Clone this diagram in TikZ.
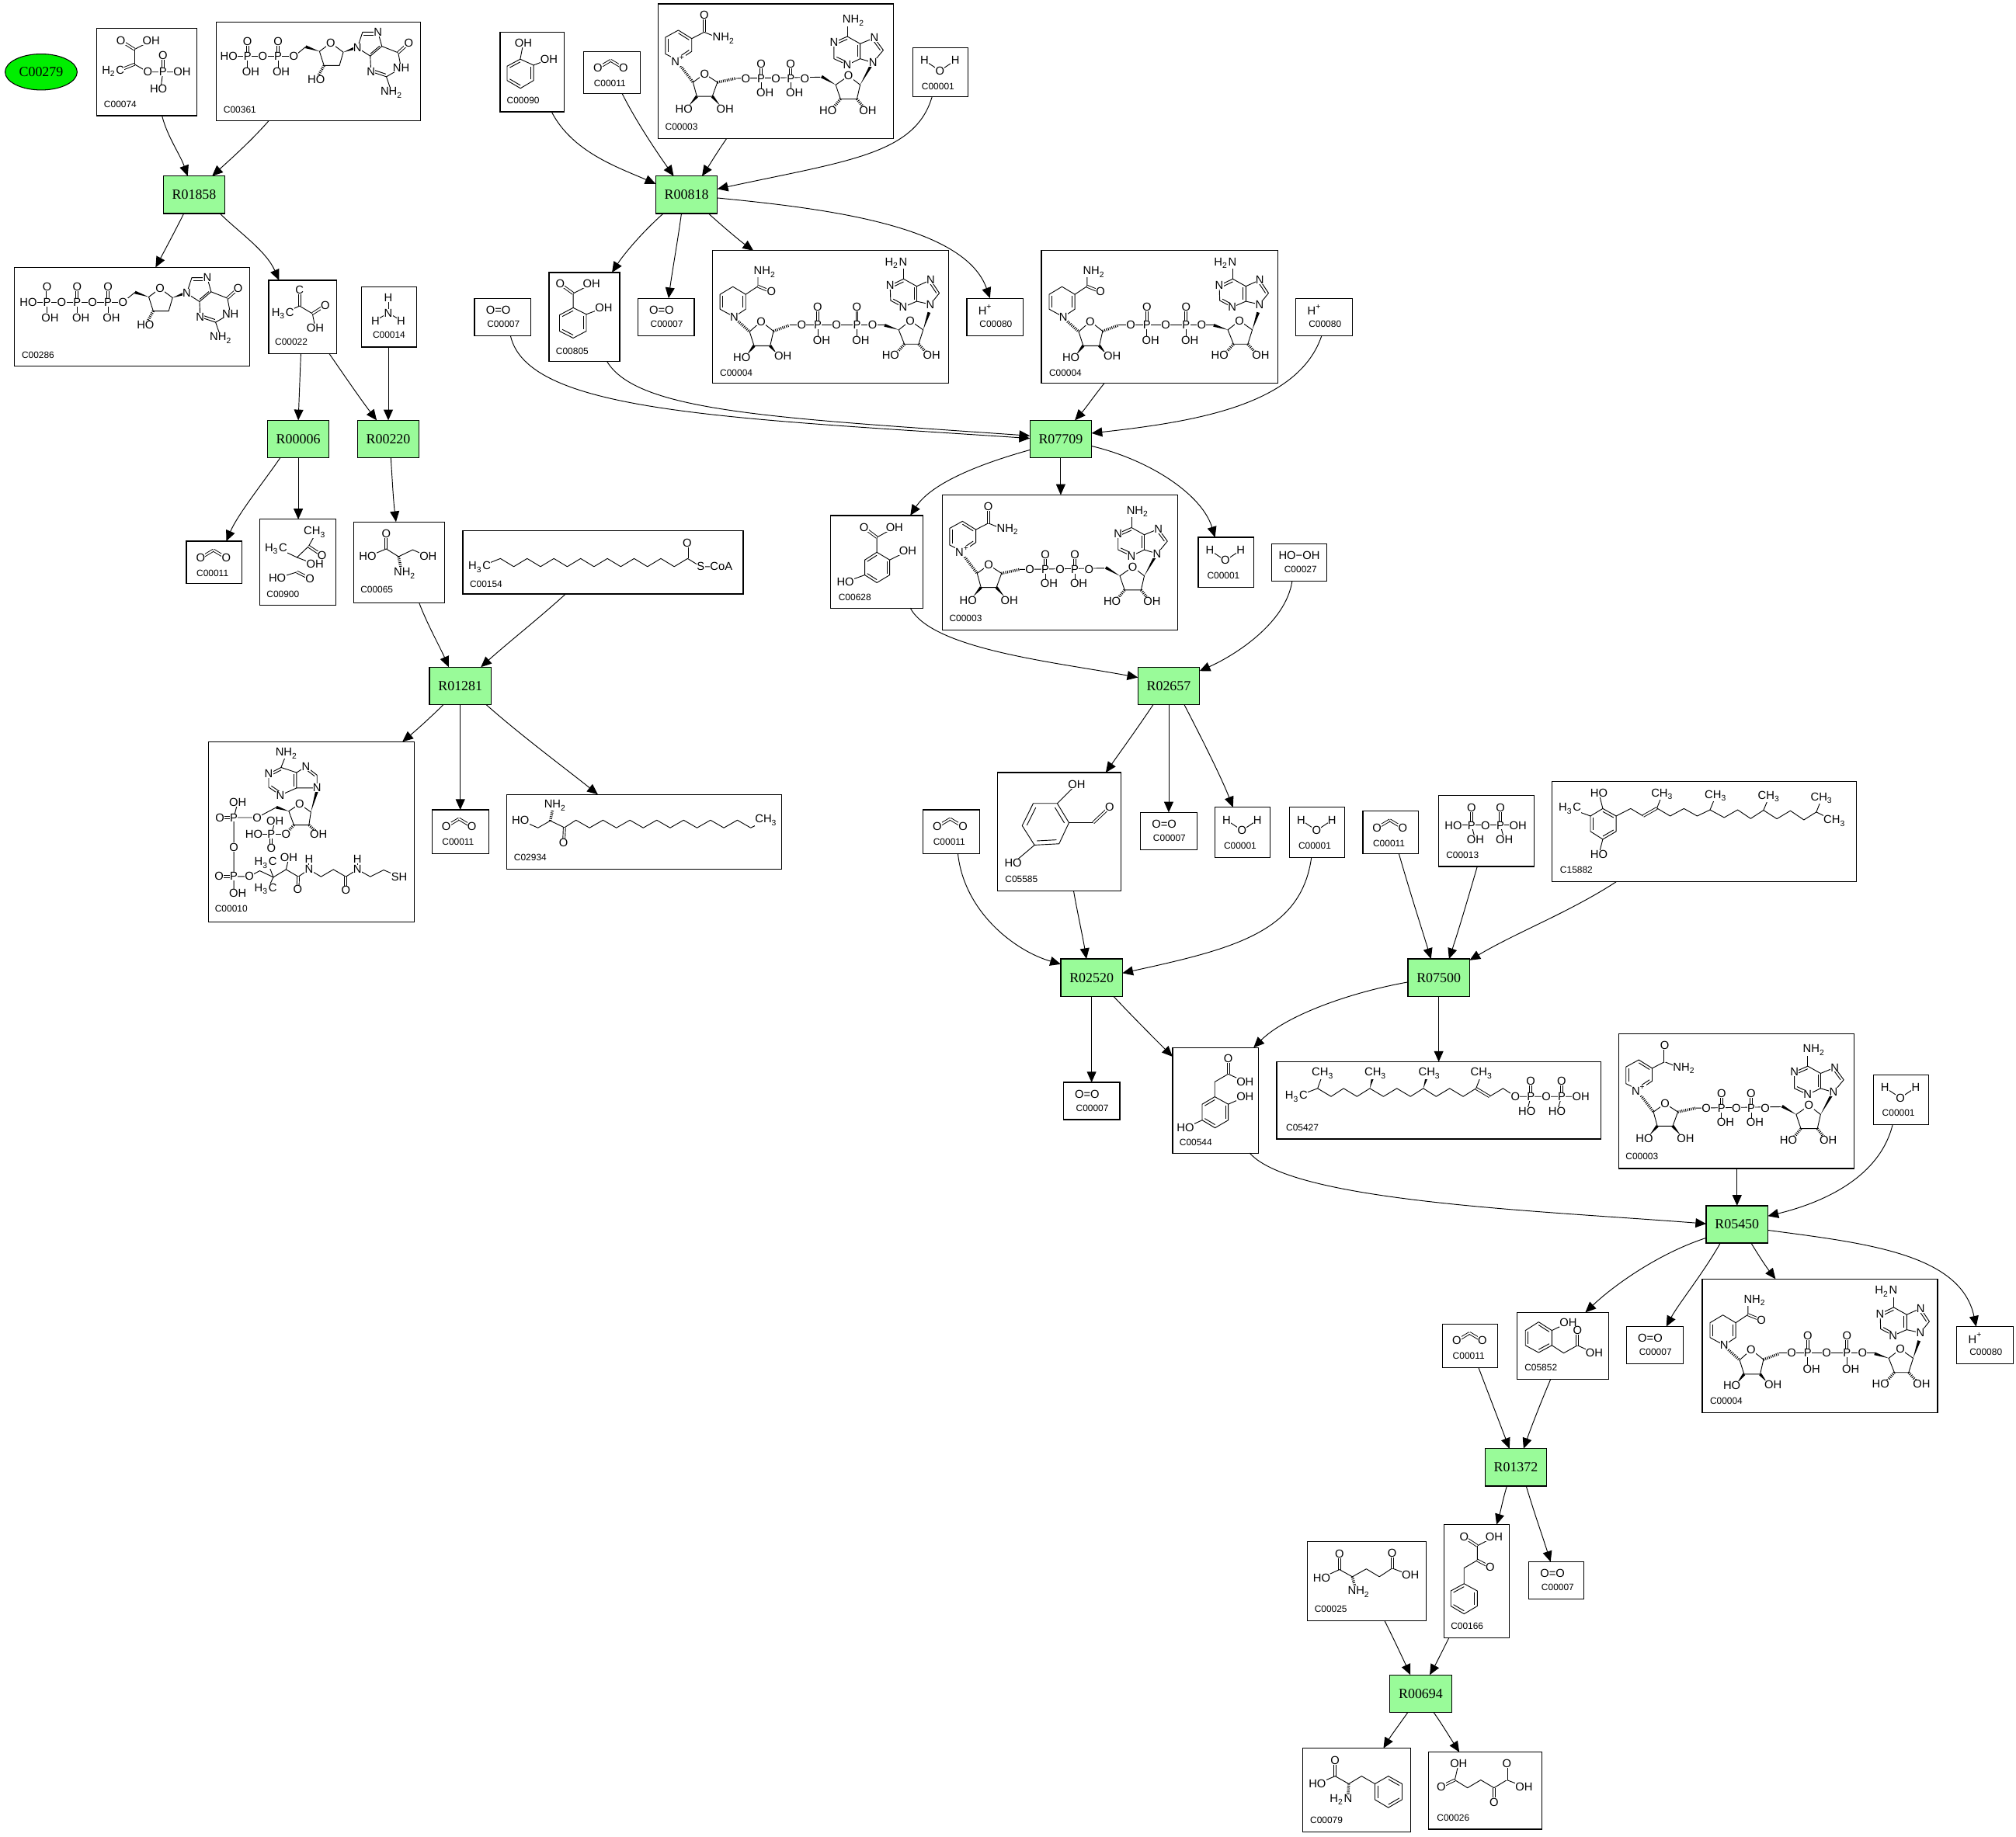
\documentclass[tikz,border=0pt]{standalone}
\usepackage{fontspec}
\setmainfont{Liberation Sans}
\newfontfamily\rxfont{Liberation Serif}
\usetikzlibrary{arrows.meta,calc,shapes.geometric}
\newcount\atomno
\newcommand\atmsize{\fontsize{4.2}{4.6}\selectfont}
\newcommand\lblsize{\fontsize{3.4}{3.8}\selectfont}
\tikzset{
 cbox/.style={draw=black,line width=0.34pt,rectangle,inner sep=0pt,outer sep=0pt,fill=white},
 rxn/.style={draw=black,line width=0.34pt,rectangle,fill=rxgreen,inner sep=0pt,outer sep=0pt,minimum width=22.6pt,minimum height=13.7pt,font=\rxfont\fontsize{5.1}{6}\selectfont},
 edge/.style={line width=0.27pt,draw=black,-{Triangle[length=3.9pt,width=3.4pt]}},
 bond/.style={line width=0.26pt,line join=round},
 dbond/.style={bond,double,double distance=0.55pt},
 atom/.style={inner sep=0.1pt,fill=white,font=\atmsize},
 idlabel/.style={inner sep=0pt,anchor=west,font=\lblsize},
}
\definecolor{rxgreen}{HTML}{99FB99}
\definecolor{startgreen}{HTML}{00EE00}
\newcommand\atm[3]{\global\advance\atomno by 1 \node[atom] (atm\the\atomno) at (#1,#2) {#3};}
\newcommand\lbl[3]{\global\advance\atomno by 1 \node[idlabel] (atm\the\atomno) at (#1,#2) {#3};}
\newcommand\bd[1]{\draw[bond] #1;}
\newcommand\dbd[1]{\draw[dbond] #1;}
\newcommand\wdg[2]{\fill (#1) -- ($(#2)!0.55pt!90:(#1)$) -- ($(#2)!0.55pt!-90:(#1)$) -- cycle;}
\newcommand\hsh[2]{\draw[line width=1pt,dash pattern=on 0.28pt off 0.42pt] (#1) -- (#2);}
\newcommand\inr[3]{\draw[bond] ($(#1)!0.2!(#3)$) -- ($(#2)!0.2!(#3)$);}
\newcommand\place[2]{\begin{scope}[shift={(#1.north west)}]#2\end{scope}}
\newcommand\cpd[5]{\pgfmathsetmacro\cw{(#4-#2)*0.47107}\pgfmathsetmacro\ch{(#5-#3)*0.47107}\node[cbox,minimum width=\cw pt,minimum height=\ch pt] (#1) at ({(#2+#4)/2},{(#3+#5)/2}) {};}
\newcommand\rx[4]{\node[rxn] (#1) at ({#2+24},{#3+14.5}) {#4};}
\newcommand\E[4]{\draw[edge] (#1) .. controls (#2) and (#3) .. (#4);}
\newcommand\Ln[2]{\draw[edge] (#1) -- (#2);}
\newcommand\nh{NH\textsubscript{2}}
\newcommand\hn{H\textsubscript{2}N}
\newcommand\mc{H\textsubscript{3}C}
\newcommand\cm{CH\textsubscript{3}}
% --- molecules
\newcommand\mCOO{\dbd{(11,13)--(21,7)}\dbd{(21,7)--(31,13)}\atm{11}{13}{O}\atm{31}{13}{O}\lbl{7.5}{25}{C00011}}
\newcommand\mHHO{\bd{(9,10)--(21,18)--(33,10)}\atm{9}{10}{H}\atm{21}{18}{O}\atm{33}{10}{H}\lbl{6.5}{30}{C00001}}
\newcommand\mOO{\atm{18.5}{9}{O=O}\lbl{9.5}{20}{C00007}}
\newcommand\mHp{\atm{14.5}{9}{H\textsuperscript{+}}\lbl{9.5}{20}{C00080}}
\newcommand\mHOOH{\atm{21.5}{9}{HO−OH}\lbl{9.5}{20}{C00027}}
\newcommand\mNAD{%
 \bd{(15.6,20.5)--(26,27)--(26,37)--(15.6,44)--(5.6,39)--(5.6,26)--cycle}
 \inr{15.6,20.5}{26,27}{15.7,32}\inr{26,37}{15.6,44}{15.7,32}\inr{5.6,39}{5.6,26}{15.7,32}
 \bd{(26,27)--(35.7,22)--(48,27)}\dbd{(35.7,22)--(35.7,9)}
 \hsh{15.6,46}{27,61}
 \bd{(27,61)--(36,54.5)--(46,61)--(42,72)--(30,72)--cycle}
 \wdg{24,79}{30,72}\wdg{48,79}{42,72}
 \hsh{46,61}{60,58}
 \bd{(60,58)--(126,57)}
 \dbd{(80,58)--(80,47)}\bd{(80,58)--(80,69)}\dbd{(103,58)--(103,47)}\bd{(103,58)--(103,69)}
 \wdg{138,63}{127,56.5}
 \bd{(138,63)--(148,56)--(157,63)--(154.5,74)--(141.7,74)--cycle}
 \hsh{141.7,74}{136,81}\hsh{154.5,74}{160,81}
 \wdg{157,63}{166,47}
 \bd{(147,25.4)--(157,31)--(157,42.7)--(147,47.5)--(136.6,42.7)--(136.6,30)--cycle}
 \bd{(157,31)--(168,26.5)--(175,36)--(167,45.7)--(157,42.7)}
 \inr{147,25.4}{136.6,30}{147,36}\inr{157,31}{157,42.7}{147,36}\inr{147,47.5}{136.6,42.7}{147,36}
 \inr{168,26.5}{175,36}{163,36}
 \bd{(147,25.4)--(147,14)}
 \atm{35.7}{9}{O}\atm{51}{27}{\nh}\atm{15.6}{44}{N\textsuperscript{+}}\atm{36}{54.5}{O}
 \atm{20}{82}{HO}\atm{52}{82}{OH}\atm{68}{58}{O}\atm{80}{58}{P}\atm{80}{46.5}{O}\atm{83}{69}{OH}
 \atm{91.5}{58}{O}\atm{103}{58}{P}\atm{103}{46.5}{O}\atm{106}{69}{OH}\atm{114}{58}{O}\atm{148}{56}{O}
 \atm{132}{83}{HO}\atm{163}{83}{OH}\atm{167}{45.7}{N}\atm{168}{26.5}{N}\atm{147}{47.5}{N}\atm{136.6}{30}{N}\atm{152}{13}{\nh}
 \lbl{5}{95.8}{C00003}}
\newcommand\mNADH{%
 \bd{(16,28)--(26,34)--(26,45.5)--(17,51.5)--(6,45.5)--(6,34)--cycle}
 \inr{26,34}{26,45.5}{16,40}\inr{6,34}{6,45.5}{16,40}
 \bd{(26,34)--(35.5,27.7)--(35.5,18)}\dbd{(35.5,27.7)--(46,32)}
 \hsh{18,53}{29,63}
 \bd{(29,63)--(38,55)--(47.6,62.6)--(45,74)--(32.5,74)--cycle}
 \wdg{27,81}{32.5,74}\wdg{50,80}{45,74}
 \hsh{47.6,62.6}{60,58}
 \bd{(60,57.6)--(134,57.6)}
 \dbd{(82,57.6)--(82,44)}\bd{(82,57.6)--(82,70)}\dbd{(112.5,57.6)--(112.5,44)}\bd{(112.5,57.6)--(112.5,70)}
 \wdg{145,61.6}{134,58}
 \bd{(145,61.6)--(154,54.5)--(164,61.6)--(160.5,72.7)--(149.4,72.7)--cycle}
 \hsh{149.4,72.7}{143,80}\hsh{160.5,72.7}{167,80}
 \wdg{164,61.6}{168.6,48}
 \bd{(148.8,22)--(159,27.7)--(159,39.4)--(148.4,44)--(138.7,38.8)--(138.3,27)--cycle}
 \bd{(159,27.7)--(169.8,22.8)--(176.6,33)--(169.6,41.8)--(159,39.4)}
 \inr{148.8,22}{138.3,27}{148.8,33}\inr{159,27.7}{159,39.4}{148.8,33}\inr{148.4,44}{138.7,38.8}{148.8,33}
 \inr{169.8,22.8}{176.6,33}{165,33}
 \bd{(148.8,22)--(148.8,11)}
 \atm{41}{16.5}{\nh}\atm{46}{32}{O}\atm{17}{51.5}{N}\atm{38}{55}{O}\atm{23}{83}{HO}\atm{55}{82}{OH}
 \atm{69.5}{57.6}{O}\atm{82}{57.6}{P}\atm{82}{44}{O}\atm{85}{70}{OH}\atm{96.6}{57.6}{O}
 \atm{112.5}{57.6}{P}\atm{112.5}{44}{O}\atm{115.5}{70}{OH}\atm{124.6}{57.6}{O}\atm{154}{54.5}{O}
 \atm{138.7}{81.4}{HO}\atm{170.6}{81.4}{OH}\atm{143}{9.7}{\hn}\atm{138.3}{27}{N}\atm{148.4}{44}{N}\atm{169.8}{22.8}{N}\atm{169.6}{41.8}{N}
 \lbl{5.6}{95}{C00004}}
% deoxyguanosine part; origin so that the 5' O sits at local (0,0)
\newcommand\mDG{%
 \bd{(0,0)--(9.3,-7.6)}\wdg{20,-4}{9.3,-7.6}
 \bd{(20,-4)--(28.8,-10.6)--(38.5,-3.4)--(35.5,7)--(23.5,7)--cycle}
 \hsh{23.5,7}{19,15}\wdg{38.5,-3.4}{48,-6.8}
 \bd{(49.5,-6.8)--(53.5,-19)--(65.5,-19)--(68.5,-8)--(59.5,-0.4)--(49.5,-6.8)}
 \bd{(68.5,-8)--(81.2,-3)--(83.5,9)--(72,15.7)--(60,11.7)--(59.5,-0.4)}
 \bd{(53.5,-19)--(65.5,-19)}\inr{53.5,-19}{65.5,-19}{58,-8}\inr{68.5,-8}{59.5,-0.4}{60,-9}\inr{60,11.7}{72,15.7}{70,5}
 \dbd{(81.2,-3)--(89.5,-10.6)}\bd{(72,15.7)--(76.2,28)}
 \atm{28.8}{-10.6}{O}\atm{17.5}{18}{HO}\atm{49.5}{-6.8}{N}\atm{65.5}{-19}{N}\atm{89.5}{-10.6}{O}\atm{83.5}{9}{NH}\atm{60}{11.7}{N}\atm{76.2}{28}{\nh}}
\newcommand\mPP[2]{% phosphate at local x: P at #1
 \dbd{(#1,27)--(#1,15)}\bd{(#1,27)--(#1,39)}\atm{#1}{27}{P}\atm{#1}{15}{O}\atm{#2}{39}{OH}}
\newcommand\mDGDP{%
 \bd{(10,27)--(60.5,27)}
 \mPP{24.5}{27}\mPP{48.3}{50.7}\atm{10}{27}{HO}\atm{36.4}{27}{O}
 \begin{scope}[shift={(60.5,27)}]\mDG\end{scope}\atm{60.5}{27}{O}
 \lbl{5.5}{68.5}{C00361}}
\newcommand\mDGTP{%
 \bd{(11,27)--(84.7,27)}
 \mPP{25.6}{28}\mPP{49}{51.9}\mPP{73}{75.7}\atm{11}{27}{HO}\atm{37}{27}{O}\atm{61}{27}{O}
 \begin{scope}[shift={(84.7,27)}]\mDG\end{scope}\atm{84.7}{27}{O}
 \lbl{5.5}{68.5}{C00286}}
\newcommand\mPEP{%
 \bd{(29.6,16.4)--(42.6,9.7)}\dbd{(29.6,16.4)--(19,9.7)}\bd{(29.6,16.4)--(29.6,28)}
 \dbd{(29.6,28)--(17,33)}\bd{(29.6,28)--(40,34)--(66.6,34)}\dbd{(51.7,34)--(51.7,21)}\bd{(51.7,34)--(50,47)}
 \atm{19}{9.7}{O}\atm{42.6}{9.7}{OH}\atm{13}{33.6}{H\textsubscript{2}C}\atm{40}{34}{O}\atm{51.7}{34}{P}\atm{51.7}{21}{O}\atm{66.6}{34}{OH}\atm{48.3}{47}{HO}
 \lbl{5.5}{59.3}{C00074}}
\newcommand\mPYR{%
 \dbd{(24,7.7)--(24,20)}\bd{(11,26)--(24,20)--(34,26)--(36.2,37)}\dbd{(34,26)--(44,19.5)}
 \atm{24}{7.7}{C}\atm{11}{26}{\mc}\atm{44}{19.5}{O}\atm{36.2}{37}{OH}\lbl{4.5}{47.7}{C00022}}
\newcommand\mNHHH{\bd{(21,8.8)--(21,20.4)}\bd{(11,26.4)--(21,20.4)--(31,26.4)}\atm{21}{8.8}{H}\atm{21}{20.4}{N}\atm{11}{26.4}{H}\atm{31}{26.4}{H}\lbl{8.5}{37.6}{C00014}}
\newcommand\mCAT{%
 \bd{(15.6,21)--(26,25.7)--(26,37.6)--(15.8,43.7)--(5.4,37.6)--(5.4,26.5)--cycle}
 \inr{26,25.7}{26,37.6}{15.7,32}\inr{15.8,43.7}{5.4,37.6}{15.7,32}\inr{5.4,26.5}{15.6,21}{15.7,32}
 \bd{(15.6,21)--(18,8.7)}\bd{(26,25.7)--(38,21)}\atm{18}{8.7}{OH}\atm{38}{21}{OH}\lbl{4.8}{52.9}{C00090}}
\newcommand\mSAL{%
 \bd{(18.8,27.4)--(29,32.5)--(29,45.6)--(18.8,51)--(8.2,45.6)--(8.2,33)--cycle}
 \inr{29,32.5}{29,45.6}{18.8,39}\inr{18.8,51}{8.2,45.6}{18.8,39}\inr{8.2,33}{18.8,27.4}{18.8,39}
 \bd{(18.8,27.4)--(18.8,16.3)--(33,9)}\dbd{(18.8,16.3)--(8.7,9)}\bd{(29,32.5)--(42.6,27.4)}
 \atm{8.7}{9}{O}\atm{33}{9}{OH}\atm{42.6}{27.4}{OH}\lbl{5}{61}{C00805}}
\newcommand\mACL{%
 \bd{(43,12)--(38,21)--(29,29.6)--(15,23)}\dbd{(38,21)--(48.5,28)}\bd{(29,29.6)--(43,35)}
 \bd{(13.7,45.7)--(29,41)}\dbd{(29,41)--(39,46)}
 \atm{43}{10}{\cm}\atm{48.5}{28}{O}\atm{12.7}{23}{\mc}\atm{43}{35}{OH}\atm{13.7}{45.7}{HO}\atm{39}{46}{O}\lbl{5}{58.4}{C00900}}
\newcommand\mSER{%
 \dbd{(25.4,21)--(25.4,9)}\bd{(11,27)--(25.4,21)--(35,27)--(46,21.7)--(58,27)}\hsh{35,27}{37,37}
 \atm{25.4}{9}{O}\atm{11}{27}{HO}\atm{58}{27}{OH}\atm{40}{40}{\nh}\lbl{5}{52.7}{C00065}}
\newcommand\mPALM{%
 \bd{(13,28)--(29.2,21.5)--(39.6,27.8)--(50,21.5)--(60.4,27.8)--(70.8,21.5)--(81.2,27.8)--(91.6,21.5)--(102,27.8)--(112.4,21.5)--(122.8,27.8)--(133.2,21.5)--(143.6,27.8)--(154,21.5)--(164.4,27.8)--(174.8,21.5)--(185,27.8)--(202,27.8)}
 \dbd{(174.8,21.5)--(174.8,9.5)}
 \atm{13}{28}{\mc}\atm{174.5}{9.5}{O}\atm{185}{27.8}{S}\atm{201}{27.8}{CoA}\lbl{5}{41.7}{C00154}}
\newcommand\mGENT{%
 \bd{(36,28.6)--(46,34.6)--(46,46.3)--(36,52.3)--(26.6,46.3)--(26.6,34.6)--cycle}
 \inr{46,34.6}{46,46.3}{36,40.5}\inr{36,52.3}{26.6,46.3}{36,40.5}\inr{26.6,34.6}{36,28.6}{36,40.5}
 \bd{(36,28.6)--(36,17)--(49.7,9.5)}\dbd{(36,17)--(26,9.5)}\bd{(46,34.6)--(60,27.6)}\bd{(26.6,46.3)--(11.5,51.7)}
 \atm{26}{9.5}{O}\atm{49.7}{9.5}{OH}\atm{60}{27.6}{OH}\atm{11.5}{51.7}{HO}\lbl{5.8}{63.8}{C00628}}
\newcommand\mGALD{%
 \bd{(46.3,24)--(55.4,39)--(47.7,55.4)--(28.6,56.4)--(19,41.3)--(27.6,24)--cycle}
 \inr{46.3,24}{55.4,39}{37.5,40}\inr{47.7,55.4}{28.6,56.4}{37.5,40}\inr{19,41.3}{27.6,24}{37.5,40}
 \bd{(46.3,24)--(61.4,9)}\bd{(55.4,39)--(74.3,39)}\dbd{(74.3,39)--(87,27)}\bd{(28.6,56.4)--(12,70.5)}
 \atm{61.4}{9}{OH}\atm{87}{27}{O}\atm{12}{70.5}{HO}\lbl{5.4}{83}{C05585}}
\newcommand\mHGA{%
 \bd{(32.8,38.2)--(43.3,44)--(43.3,56.4)--(33,62.4)--(23,56.4)--(23,44)--cycle}
 \inr{43.3,44}{43.3,56.4}{33,50}\inr{33,62.4}{23,56.4}{33,50}\inr{23,44}{32.8,38.2}{33,50}
 \bd{(32.8,38.2)--(32.8,26.6)--(43.3,20.5)--(56.4,26.6)}\dbd{(43.3,20.5)--(43.3,8.5)}\bd{(43.3,44)--(56.4,38.2)}\bd{(23,56.4)--(10,62.4)}
 \atm{43.3}{8.5}{O}\atm{56.4}{26.6}{OH}\atm{56.4}{38.2}{OH}\atm{10}{62.4}{HO}\lbl{5}{73.5}{C00544}}
\newcommand\mOHPA{%
 \bd{(16.7,7.4)--(27,14)--(27,25.6)--(16.7,31.2)--(6.4,25.6)--(6.4,14)--cycle}
 \inr{16.7,7.4}{27,14}{16.7,19.3}\inr{27,25.6}{16.7,31.2}{16.7,19.3}\inr{6.4,25.6}{6.4,14}{16.7,19.3}
 \bd{(27,14)--(39.7,7.8)}\bd{(27,25.6)--(36.2,31.6)--(46.9,25.6)--(60,31.6)}\dbd{(46.9,25.6)--(46.9,14)}
 \atm{39.7}{7.8}{OH}\atm{46.9}{14}{O}\atm{60}{31.6}{OH}\lbl{5.4}{43}{C05852}}
\newcommand\mPPi{%
 \bd{(11.4,23)--(61.6,23)}\dbd{(25.5,23)--(25.5,9.3)}\bd{(25.5,23)--(28.5,34.4)}\dbd{(48,23)--(48,9.3)}\bd{(48,23)--(51,34.4)}
 \atm{11.4}{23}{HO}\atm{25.5}{23}{P}\atm{25.5}{9.3}{O}\atm{28.5}{34.4}{OH}\atm{36.3}{23}{O}\atm{48}{23}{P}\atm{48}{9.3}{O}\atm{61.6}{23}{OH}\atm{51}{34.4}{OH}\lbl{5.4}{46}{C00013}}
\newcommand\mHPP{%
 \bd{(39.6,21)--(50,26.8)--(50,38.8)--(39.6,44.9)--(30,38.8)--(30,26.8)--cycle}
 \inr{39.6,21}{50,26.8}{40,33}\inr{50,38.8}{39.6,44.9}{40,33}\inr{30,38.8}{30,26.8}{40,33}
 \bd{(39.6,21)--(36.6,9)}\bd{(30,26.8)--(14,21)}\bd{(39.6,44.9)--(36.6,56.5)}
 \bd{(50,26.8)--(61.3,21)--(71,26.8)}\dbd{(71,26.8)--(81.7,20.7)}
 \bd{(86,9.7)--(81.7,20.7)--(92,26.8)--(102.7,21)--(113,26.8)--(123,22)--(134,28)--(144.5,22)--(154.6,28.8)--(164.6,22.3)--(175,29)--(185.5,22.7)--(196,29.8)--(205.7,23.7)--(220,30.8)}
 \bd{(123,22)--(127.6,10.9)}\bd{(164.6,22.3)--(169,11.7)}\bd{(205.7,23.7)--(210,12.7)}
 \atm{36.6}{9}{HO}\atm{14}{21}{\mc}\atm{36.6}{56.5}{HO}\atm{86}{9.7}{\cm}\atm{127.6}{10.9}{\cm}\atm{169}{11.7}{\cm}\atm{210}{12.7}{\cm}\atm{220}{30.8}{\cm}
 \lbl{6}{68.8}{C15882}}
\newcommand\mFPP{%
 \bd{(15.3,27)--(31.8,20.7)--(42.3,27)--(52,20.7)--(62.4,27)--(72.4,20.7)--(83,27)--(93.4,20.7)--(104,27)--(114,20.7)--(124,27)--(134.5,20.7)--(145,27)--(155,20.7)}
 \dbd{(155,20.7)--(165.5,27)}\bd{(165.5,27)--(176,20.7)--(185.6,27)--(236.6,27)}
 \bd{(36,9)--(31.8,20.7)}\wdg{72.4,20.7}{75,11}\wdg{114,20.7}{117,11}\bd{(155,20.7)--(159.5,9)}
 \dbd{(197.6,27)--(197.6,15)}\bd{(197.6,27)--(194.6,38.8)}\dbd{(221.6,27)--(221.6,15)}\bd{(221.6,27)--(218,38.8)}
 \atm{36}{9}{\cm}\atm{15.3}{27}{\mc}\atm{77}{9}{\cm}\atm{119}{9}{\cm}\atm{159.5}{9}{\cm}\atm{185.6}{27}{O}\atm{197.6}{27}{P}\atm{197.6}{15}{O}\atm{194.6}{38.8}{HO}\atm{209.6}{27}{O}\atm{221.6}{27}{P}\atm{221.6}{15}{O}\atm{236.6}{27}{OH}\atm{218}{38.8}{HO}
 \lbl{6.9}{51}{C05427}}
\newcommand\mGLU{%
 \dbd{(24.8,22)--(24.8,10)}\bd{(11,28.4)--(24.8,22)--(34.8,27.6)--(45.7,21.5)--(55.8,27.6)--(65.8,21)--(80,26.4)}\dbd{(65.8,21)--(65.8,9)}\hsh{34.8,27.6}{37,36}
 \atm{24.8}{10}{O}\atm{11}{28.4}{HO}\atm{65.8}{9}{O}\atm{80}{26.4}{OH}\atm{40}{39.5}{\nh}\lbl{5}{52.5}{C00025}}
\newcommand\mPPY{%
 \bd{(15.7,46)--(26,51.6)--(26,63.4)--(15.7,69.5)--(5.4,63.4)--(5.4,51.6)--cycle}
 \inr{26,51.6}{26,63.4}{15.7,57.7}\inr{15.7,69.5}{5.4,63.4}{15.7,57.7}\inr{5.4,51.6}{15.7,46}{15.7,57.7}
 \bd{(39,9.7)--(26,16.5)--(26,27.8)--(15.7,33.8)--(15.7,46)}\dbd{(26,16.5)--(15.7,9.7)}\dbd{(26,27.8)--(36,33)}
 \atm{15.7}{9.7}{O}\atm{39}{9.7}{OH}\atm{36}{33}{O}\lbl{5}{79}{C00166}}
\newcommand\mPHE{%
 \bd{(56.4,27.7)--(66.8,21.7)--(77.5,27.7)--(77.5,40)--(66.8,46.2)--(56.4,40)--cycle}
 \inr{66.8,21.7}{77.5,27.7}{67,34}\inr{77.5,40}{66.8,46.2}{67,34}\inr{56.4,40}{56.4,27.7}{67,34}
 \dbd{(25.4,21.7)--(25.4,9.7)}\bd{(11.6,27.7)--(25.4,21.7)--(36,27.7)--(46,21.7)--(56.4,27.7)}\hsh{36,27.7}{35.5,36}
 \atm{25.4}{9.7}{O}\atm{11.6}{27.7}{HO}\atm{30}{40}{\hn}\lbl{5.6}{56}{C00079}}
\newcommand\mAKG{%
 \bd{(23.5,8.7)--(20.5,21.7)--(30.4,27.8)--(40.7,21.7)--(51,27.8)--(61,21.7)--(74.3,26.8)}\dbd{(20.5,21.7)--(9.9,26.8)}\dbd{(51,27.8)--(51,38.9)}\dbd{(61,21.7)--(61,8.7)}
 \atm{23.5}{8.7}{OH}\atm{9.9}{26.8}{O}\atm{51}{38.9}{O}\atm{61}{8.7}{O}\atm{74.3}{26.8}{OH}\lbl{6.2}{51}{C00026}}
\newcommand\mCOA{%
 \bd{(61,9)--(56.6,20)--(47,25)--(47,35.4)--(56,41.6)--(68.7,36)--(68.7,24)--(56.6,20)}
 \bd{(68.7,24)--(76,19.3)--(84.6,26)--(84.6,36)--(68.7,36)}
 \inr{56.6,20}{47,25}{57,30}\inr{47,35.4}{56,41.6}{57,30}\inr{68.7,24}{68.7,36}{57,30}\inr{76,19.3}{84.6,26}{75,30}
 \wdg{79.8,54.7}{84.6,38}
 \bd{(79.8,54.7)--(71,48.5)--(62.6,54)--(66.6,64.8)--(78.3,64.8)--cycle}
 \hsh{78.3,64.8}{84,70}\hsh{66.6,64.8}{61,71}
 \wdg{62.6,54}{53,51}\bd{(53,51)--(38,59)--(19.9,59)--(19.9,82)--(19.9,104.8)--(19.9,118)}
 \dbd{(19.9,59)--(9,59)}\bd{(19.9,59)--(22.9,47)}\dbd{(19.9,104.8)--(8.4,104.8)}
 \bd{(19.9,104.8)--(32,104.8)--(40,100.4)--(50.6,105.4)--(60.5,99.4)--(70,105)--(78.3,99.4)--(87.7,105)--(97.3,99.4)--(107,105)--(116,99.4)--(126,105)--(136.4,99.8)--(148.5,105)}
 \bd{(50.6,105.4)--(47,96)}\bd{(50.6,105.4)--(47,113)}\bd{(60.5,99.4)--(62.6,90.3)}\dbd{(70,105)--(69.6,115)}\dbd{(107,105)--(107,115.5)}
 \bd{(78.3,99.4)--(78.3,91.3)}\bd{(116,99.4)--(116,91.3)}
 \bd{(35.5,72.2)--(60.5,72.2)}\bd{(49,72.2)--(52,61.6)}\dbd{(49,72.2)--(49,83)}
 \atm{61}{9}{\nh}\atm{47}{25}{N}\atm{56}{41.6}{N}\atm{76}{19.3}{N}\atm{84.6}{36}{N}\atm{71}{48.5}{O}\atm{85.8}{72.2}{OH}\atm{38}{59}{O}\atm{19.9}{59}{P}\atm{9}{59}{O}\atm{22.9}{47}{OH}\atm{19.9}{82}{O}\atm{19.9}{104.8}{P}\atm{8.4}{104.8}{O}\atm{22.9}{118}{OH}\atm{32}{104.8}{O}
 \atm{44.6}{94.4}{\mc}\atm{44.6}{114.5}{\mc}\atm{62.6}{90.3}{OH}\atm{69.6}{115}{O}\atm{78.3}{99.4}{N}\atm{78.3}{91.3}{H}\atm{107}{115.5}{O}\atm{116}{99.4}{N}\atm{116}{91.3}{H}\atm{148.5}{105}{SH}
 \atm{60.5}{72.2}{O}\atm{49}{72.2}{P}\atm{35.5}{72.2}{HO}\atm{52}{61.6}{OH}\atm{49}{83}{O}
 \lbl{4.8}{130}{C00010}}
\newcommand\mSPH{%
 \bd{(10.8,20)--(24.4,26)--(34,20.5)--(45,25.8)--(54,20)--(64.5,26)--(75,20)--(85.4,26)--(95.9,20)--(106.3,26)--(116.8,20)--(127.2,26)--(137.7,20)--(148.1,26)--(158.6,20)--(169,26)--(179.5,20)--(189.9,26)--(202,20)}
 \dbd{(45,25.8)--(44.5,37.8)}\hsh{34,20.5}{36,11}
 \atm{10.8}{20}{HO}\atm{38}{8.5}{\nh}\atm{44.2}{37.8}{O}\atm{202}{20}{\cm}\lbl{5.4}{49.3}{C02934}}
\begin{document}
\begin{tikzpicture}[x=0.016556cm,y=-0.016556cm]
\useasboundingbox (0,0) rectangle (1568,1428.5);
% nodes
\node[draw=black,line width=0.3pt,ellipse,fill=startgreen,minimum width=26.4pt,minimum height=13.2pt,inner sep=0pt,outer sep=0pt,font=\rxfont\fontsize{5.1}{6}\selectfont] (c00279) at (32,56) {C00279};
\cpd{c00074}{75}{22}{153}{90}\place{c00074}{\mPEP}
\cpd{c00361}{168}{17}{327}{94}\place{c00361}{\mDGDP}
\rx{r01858}{127}{137}{R01858}
\cpd{c00286}{11}{208}{194}{285}\place{c00286}{\mDGTP}
\cpd{c00022}{209}{218}{262}{275}\place{c00022}{\mPYR}
\cpd{c00014}{281}{223}{324}{270}\place{c00014}{\mNHHH}
\rx{r00006}{208}{327}{R00006}
\rx{r00220}{278}{327}{R00220}
\cpd{co2a}{145}{421}{188}{454}\place{co2a}{\mCOO}
\cpd{c00900}{202}{404}{261}{471}\place{c00900}{\mACL}
\cpd{c00065}{275}{406}{346}{469}\place{c00065}{\mSER}
\cpd{c00154}{360}{413}{578}{462}\place{c00154}{\mPALM}
\rx{r01281}{334}{519}{R01281}
\cpd{c00010}{162}{577}{322}{717}\place{c00010}{\mCOA}
\cpd{co2b}{336}{630}{380}{664}\place{co2b}{\mCOO}
\cpd{c02934}{394}{618}{608}{676}\place{c02934}{\mSPH}
\cpd{c00090}{389}{25}{439}{87}\place{c00090}{\mCAT}
\cpd{co2c}{454}{40}{498}{73}\place{co2c}{\mCOO}
\cpd{nada}{512}{3}{695}{108}\place{nada}{\mNAD}
\cpd{wata}{710}{37}{753}{75}\place{wata}{\mHHO}
\rx{r00818}{510}{137}{R00818}
\cpd{c00805}{427}{212}{482}{281}\place{c00805}{\mSAL}
\cpd{oxa}{369}{232}{413}{261}\place{oxa}{\mOO}
\cpd{oxb}{496}{232}{540}{261}\place{oxb}{\mOO}
\cpd{nadha}{554}{195}{738}{298}\place{nadha}{\mNADH}
\cpd{hpa}{752}{232}{796}{261}\place{hpa}{\mHp}
\cpd{nadhb}{810}{195}{994}{298}\place{nadhb}{\mNADH}
\cpd{hpb}{1008}{232}{1052}{261}\place{hpb}{\mHp}
\rx{r07709}{801}{327}{R07709}
\cpd{c00628}{646}{401}{718}{473}\place{c00628}{\mGENT}
\cpd{nadb}{733}{385}{916}{490}\place{nadb}{\mNAD}
\cpd{watb}{932}{418}{975}{457}\place{watb}{\mHHO}
\cpd{c00027}{989}{423}{1032}{452}\place{c00027}{\mHOOH}
\rx{r02657}{885}{519}{R02657}
\cpd{c05585}{776}{601}{872}{693}\place{c05585}{\mGALD}
\cpd{oxc}{887}{632}{931}{661}\place{oxc}{\mOO}
\cpd{watc}{945}{628}{988}{667}\place{watc}{\mHHO}
\cpd{watd}{1003}{628}{1046}{667}\place{watd}{\mHHO}
\cpd{co2d}{718}{630}{762}{664}\place{co2d}{\mCOO}
\cpd{co2e}{1060}{631}{1103}{664}\place{co2e}{\mCOO}
\cpd{c00013}{1119}{619}{1193}{674}\place{c00013}{\mPPi}
\cpd{c15882}{1207}{608}{1444}{686}\place{c15882}{\mHPP}
\rx{r02520}{825}{746}{R02520}
\rx{r07500}{1095}{746}{R07500}
\cpd{oxd}{827}{842}{871}{871}\place{oxd}{\mOO}
\cpd{c00544}{912}{815}{979}{897}\place{c00544}{\mHGA}
\cpd{c05427}{993}{826}{1245}{886}\place{c05427}{\mFPP}
\cpd{nadc}{1259}{804}{1442}{909}\place{nadc}{\mNAD}
\cpd{wate}{1457}{836}{1500}{875}\place{wate}{\mHHO}
\rx{r05450}{1327}{938}{R05450}
\cpd{c05852}{1180}{1021}{1251}{1073}\place{c05852}{\mOHPA}
\cpd{co2f}{1122}{1030}{1165}{1064}\place{co2f}{\mCOO}
\cpd{oxe}{1265}{1032}{1309}{1061}\place{oxe}{\mOO}
\cpd{nadhc}{1324}{995}{1507}{1099}\place{nadhc}{\mNADH}
\cpd{hpc}{1522}{1032}{1566}{1061}\place{hpc}{\mHp}
\rx{r01372}{1155}{1127}{R01372}
\cpd{c00166}{1123}{1186}{1174}{1274}\place{c00166}{\mPPY}
\cpd{oxf}{1189}{1215}{1232}{1244}\place{oxf}{\mOO}
\cpd{c00025}{1017}{1199}{1109}{1261}\place{c00025}{\mGLU}
\rx{r00694}{1081}{1303}{R00694}
\cpd{c00079}{1013}{1360}{1097}{1425}\place{c00079}{\mPHE}
\cpd{c00026}{1111}{1363}{1199}{1423}\place{c00026}{\mAKG}
% connectors
\E{126,0 |- c00074.south}{130,106}{140,120}{146,0 |- r01858.north}
\E{209,0 |- c00361.south}{195,110}{178,125}{165,0 |- r01858.north}
\E{143,0 |- r01858.south}{136,180}{128,195}{121,0 |- c00286.north}
\E{171,0 |- r01858.south}{185,180}{207,195}{217,0 |- c00022.north}
\Ln{234,0 |- c00022.south}{232,0 |- r00006.north}
\E{256,0 |- c00022.south}{265,288}{280,310}{293,0 |- r00220.north}
\Ln{302,0 |- c00014.south}{302,0 |- r00220.north}
\E{218,0 |- r00006.south}{205,375}{185,400}{176,0 |- co2a.north}
\Ln{232,0 |- r00006.south}{232,0 |- c00900.north}
\E{304,0 |- r00220.south}{305,372}{306,390}{308,0 |- c00065.north}
\E{326,0 |- c00065.south}{332,485}{343,505}{349,0 |- r01281.north}
\E{440,0 |- c00154.south}{418,482}{395,500}{374,0 |- r01281.north}
\E{345,0 |- r01281.south}{337,556}{325,567}{313,0 |- c00010.north}
\Ln{358,0 |- r01281.south}{358,0 |- co2b.north}
\E{378,0 |- r01281.south}{405,572}{440,598}{465,0 |- c02934.north}
\E{429,0 |- c00090.south}{445,118}{480,130}{r00818.west |- 0,143}
\E{484,0 |- co2c.south}{495,95}{512,120}{524,0 |- r00818.north}
\E{565,0 |- nada.south}{558,118}{552,128}{546,0 |- r00818.north}
\E{725,0 |- wata.south}{712,120}{660,125}{r00818.east |- 0,147}
\E{516,0 |- r00818.south}{500,180}{485,198}{476,0 |- c00805.north}
\E{530,0 |- r00818.south}{527,188}{523,210}{520,0 |- oxb.north}
\E{551,0 |- r00818.south}{562,176}{575,187}{586,0 |- nadha.north}
\E{r00818.east |- 0,154}{640,162}{750,175}{770,0 |- hpa.north}
\E{397,0 |- oxa.south}{410,320}{560,325}{r07709.west |- 0,341}
\E{472,0 |- c00805.south}{495,320}{600,325}{r07709.west |- 0,339}
\E{859,0 |- nadhb.south}{851,308}{844,318}{836,0 |- r07709.north}
\E{1028,0 |- hpb.south}{1010,315}{930,328}{r07709.east |- 0,337}
\E{r07709.west |- 0,350}{765,360}{725,375}{708,0 |- c00628.north}
\Ln{825,0 |- r07709.south}{825,0 |- nadb.north}
\E{r07709.east |- 0,347}{895,358}{935,385}{945,0 |- watb.north}
\E{708,0 |- c00628.south}{725,505}{820,515}{r02657.west |- 0,527}
\E{1005,0 |- c00027.south}{1000,485}{960,510}{r02657.east |- 0,522}
\E{897,0 |- r02657.south}{885,566}{872,584}{860,0 |- c05585.north}
\Ln{909,0 |- r02657.south}{909,0 |- oxc.north}
\E{921,0 |- r02657.south}{935,575}{950,605}{959,0 |- watc.north}
\E{745,0 |- co2d.south}{750,710}{790,740}{r02520.west |- 0,750}
\E{835,0 |- c05585.south}{838,710}{842,728}{845,0 |- r02520.north}
\E{1020,0 |- watd.south}{1012,725}{960,738}{r02520.east |- 0,757}
\E{1088,0 |- co2e.south}{1096,692}{1105,720}{1113,0 |- r07500.north}
\E{1149,0 |- c00013.south}{1142,698}{1135,722}{1127,0 |- r07500.north}
\E{1257,0 |- c15882.south}{1220,710}{1180,725}{r07500.east |- 0,747}
\Ln{849,0 |- r02520.south}{849,0 |- oxd.north}
\E{866,0 |- r02520.south}{882,792}{898,808}{c00544.west |- 0,822}
\E{r07500.west |- 0,764}{1050,772}{1000,790}{975,0 |- c00544.north}
\Ln{1119,0 |- r07500.south}{1119,0 |- c05427.north}
\E{972,0 |- c00544.south}{1005,935}{1200,942}{r05450.west |- 0,952}
\Ln{1351,0 |- nadc.south}{1351,0 |- r05450.north}
\E{1472,0 |- wate.south}{1462,915}{1420,935}{r05450.east |- 0,946}
\E{r05450.west |- 0,963}{1290,975}{1255,1000}{1233,0 |- c05852.north}
\E{1338,0 |- r05450.south}{1325,990}{1305,1015}{1296,0 |- oxe.north}
\E{1362,0 |- r05450.south}{1368,977}{1374,986}{1381,0 |- nadhc.north}
\E{r05450.east |- 0,957}{1450,967}{1525,975}{1537,0 |- hpc.north}
\E{1150,0 |- co2f.south}{1158,1085}{1166,1106}{1174,0 |- r01372.north}
\E{1206,0 |- c05852.south}{1198,1092}{1191,1110}{1185,0 |- r01372.north}
\E{1172,0 |- r01372.south}{1169,1166}{1167,1176}{1164,0 |- c00166.north}
\E{1187,0 |- r01372.south}{1193,1176}{1200,1196}{1206,0 |- oxf.north}
\E{1077,0 |- c00025.south}{1084,1275}{1091,1290}{1097,0 |- r00694.north}
\E{1127,0 |- c00166.south}{1122,1284}{1117,1294}{1112,0 |- r00694.north}
\E{1095,0 |- r00694.south}{1088,1342}{1082,1350}{1076,0 |- c00079.north}
\E{1115,0 |- r00694.south}{1122,1342}{1128,1352}{1135,0 |- c00026.north}
\end{tikzpicture}
\end{document}
